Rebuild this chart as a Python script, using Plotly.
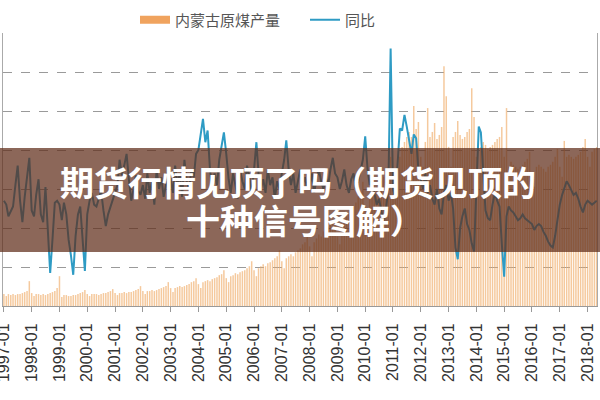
import pandas as pd
import plotly.graph_objects as go

# monthly categories 1997-01 .. 2018-05
months = pd.date_range("1997-01-01", "2018-05-01", freq="MS")

# 内蒙古原煤产量 (万吨), by year
output_by_year = {
    1997: [612, 510, 612, 561, 612, 561, 612, 612, 663, 714, 765, 1275],
    1998: [663, 510, 612, 612, 561, 612, 561, 612, 663, 714, 765, 918],
    1999: [1530, 459, 561, 561, 510, 510, 561, 561, 612, 663, 714, 816],
    2000: [612, 510, 612, 612, 612, 561, 612, 663, 663, 714, 765, 867],
    2001: [663, 561, 663, 663, 714, 663, 714, 714, 765, 816, 867, 1020],
    2002: [765, 612, 765, 765, 816, 765, 816, 867, 918, 969, 1020, 1224],
    2003: [918, 714, 918, 969, 1020, 969, 1020, 1071, 1122, 1224, 1275, 1428],
    2004: [1122, 918, 1224, 1275, 1326, 1275, 1377, 1428, 1479, 1581, 1632, 1836],
    2005: [1428, 1224, 1530, 1581, 1683, 1632, 1734, 1785, 1836, 1938, 2040, 2295],
    2006: [1836, 1530, 1938, 2040, 2142, 2040, 2193, 2244, 2346, 2448, 2550, 2856],
    2007: [2295, 1938, 2448, 2550, 2652, 2550, 2754, 2856, 2958, 3162, 3264, 3570],
    2008: [3060, 2550, 3264, 3468, 3672, 3570, 3825, 3978, 4080, 4284, 4386, 4692],
    2009: [3570, 3162, 4080, 4335, 4590, 4692, 4896, 5100, 5304, 5610, 5865, 6375],
    2010: [5100, 4590, 5610, 5865, 6018, 6120, 6222, 6426, 6630, 6885, 7140, 7650],
    2011: [6375, 5865, 7140, 7650, 8160, 8415, 8670, 8925, 8670, 10251, 9078, 9435],
    2012: [7650, 7140, 8415, 10149, 8670, 8925, 9384, 8568, 8772, 9180, 12291, 10761],
    2013: [8160, 7140, 8670, 8925, 9486, 8772, 8568, 8670, 8925, 9078, 11169, 9690],
    2014: [7650, 6885, 8160, 8415, 8262, 8058, 8160, 8262, 8415, 8568, 8670, 9180],
    2015: [7650, 10149, 7140, 7395, 7242, 7140, 7038, 7140, 7242, 7395, 7548, 7905],
    2016: [6630, 6120, 7140, 7242, 7140, 7038, 6885, 7140, 7242, 7395, 7650, 8058],
    2017: [7140, 6630, 8466, 7650, 7752, 7650, 7548, 7650, 7752, 7905, 8160, 8568],
    2018: [7650, 7140, 7905, 8058, 8160],
}

# 同比 (%), by year
yoy_by_year = {
    1997: [14, 12, 6, 9, 11, 22, 32, 14, 3, 16, 27, 36],
    1998: [9, 6, 17, 25, 7, 3, 21, -1, -23, -6, 13, 14],
    1999: [12, 4, 13, 7, -6, -14, -24, -4, 7, 11, -9, -22],
    2000: [7, 14, 18, 12, 11, 15, 19, 9, 1, 7, 11, 15],
    2001: [18, 22, 35, 27, 32, 38, 25, 14, 20, 27, 19, 17],
    2002: [22, 15, 28, 18, 24, 12, 30, 20, 26, 16, 22, 30],
    2003: [25, 18, 32, 22, 28, 16, 35, 24, 20, 30, 26, 38],
    2004: [40, 48, 56, 44, 50, 30, 20, 28, 22, 35, 42, 49],
    2005: [38, 25, 18, 28, 22, 15, 30, 24, 20, 32, 26, 18],
    2006: [30, 44, 28, 20, 25, 18, 30, 22, 26, 15, 24, 20],
    2007: [28, 35, 45, 30, 22, 28, 18, 25, 30, 22, 26, 20],
    2008: [22, 28, 18, 25, 30, 24, 20, 26, 22, 30, 36, 28],
    2009: [26, 20, 24, 30, 22, 18, 25, 28, 20, 24, 30, 35],
    2010: [47, 30, 22, 25, 18, 12, 15, 8, 3, 10, 20, 92],
    2011: [20, 15, 35, 51, 50, 58, 52, 45, 38, 48, 46, 30],
    2012: [25, 20, 28, 18, 22, 15, 12, 20, 10, 7, 18, 22],
    2013: [14, 18, 10, -10, -16, 0, 6, 10, 2, -1, -8, -12],
    2014: [20, 52, 49, 25, 9, 5, 4, 12, 18, 14, 11, -8],
    2015: [-25, 6, 11, 9, 8, 6, 4, 5, 7, 5, 4, 3],
    2016: [2, -1, 1, 2, 1, -2, -4, -7, -9, -10, -4, 4],
    2017: [12, 17, 20, 24, 22, 19, 17, 18, 15, 11, 8, 12],
    2018: [14, 13, 12, 13, 14],
}

years = list(range(1997, 2019))
tick_vals = [f"{y}-01-01" for y in years]
tick_text = [f"{y}-01" for y in years]

output = [v for y in years for v in output_by_year[y]]
yoy = [v for y in years for v in yoy_by_year[y]]

BAR_COLOR = "rgba(240,172,105,0.65)"
LINE_COLOR = "#2E9BC4"

fig = go.Figure()
fig.add_trace(go.Bar(
    x=months, y=output, name="内蒙古原煤产量", showlegend=False,
    marker=dict(color=BAR_COLOR, line=dict(width=0)),
))
# legend proxy giving the wide orange swatch of the reference
fig.add_trace(go.Scatter(
    x=[None], y=[None], name="内蒙古原煤产量", mode="lines",
    line=dict(color="#F0A35E", width=8),
))
fig.add_trace(go.Scatter(
    x=months, y=yoy, name="同比", yaxis="y2", mode="lines",
    line=dict(color=LINE_COLOR, width=2),
))

W, H = 600, 400
L, R, T, B = 3, 3, 33, 94
pw, ph = W - L - R, H - T - B

fig.update_layout(
    width=W, height=H,
    margin=dict(l=L, r=R, t=T, b=B, autoexpand=False),
    paper_bgcolor="white", plot_bgcolor="white",
    bargap=0.3,
    font=dict(family="Noto Sans CJK SC, sans-serif", color="#444"),
    showlegend=True,
    legend=dict(orientation="h", x=(135 - L) / pw, xanchor="left",
                y=1 + (T - 20) / ph, yanchor="middle",
                entrywidth=125, entrywidthmode="pixels",
                font=dict(size=15, color="#555"), bgcolor="rgba(0,0,0,0)"),
    xaxis=dict(type="date", range=["1996-12-20", "2018-05-05"], automargin=False,
               tickvals=tick_vals, ticktext=tick_text, tickangle=-90,
               ticklabeloverflow="allow", ticklabelstandoff=5,
               tickfont=dict(size=16, color="#333", family="Liberation Sans, Arial"),
               ticks="outside", ticklen=5, tickcolor="#999",
               showline=True, linecolor="#999", showgrid=False),
    yaxis=dict(range=[0, 14000], dtick=2000, showticklabels=False, automargin=False,
               showgrid=True, gridcolor="#9a9a9a", griddash="dash", gridwidth=1,
               showline=True, linecolor="#aaa", zeroline=False),
    yaxis2=dict(range=[-40, 100], overlaying="y", side="right", automargin=False,
                showticklabels=False, showgrid=False, zeroline=False,
                showline=True, linecolor="#aaa"),
    shapes=[dict(type="rect", xref="paper", yref="paper",
                 x0=-L / pw - 0.01, x1=1 + R / pw + 0.01,
                 y0=(H - B - 252) / ph, y1=(H - B - 148) / ph,
                 fillcolor="rgba(95,45,25,0.72)", line=dict(width=0), layer="above")],
    annotations=[
        dict(text="<b>期货行情见顶了吗（期货见顶的</b>", xref="paper", yref="paper",
             x=(298 - L) / pw, y=(H - B - 181) / ph, xanchor="center", yanchor="middle",
             showarrow=False,
             font=dict(size=34, color="white", family="Noto Sans CJK SC")),
        dict(text="<b>十种信号图解）</b>", xref="paper", yref="paper",
             x=(305 - L) / pw, y=(H - B - 219) / ph, xanchor="center", yanchor="middle",
             showarrow=False,
             font=dict(size=34, color="white", family="Noto Sans CJK SC")),
    ],
)

fig.write_html("out.html", config={"displayModeBar": False},
               post_script="document.body.style.margin='0';document.body.style.overflow='hidden';")
